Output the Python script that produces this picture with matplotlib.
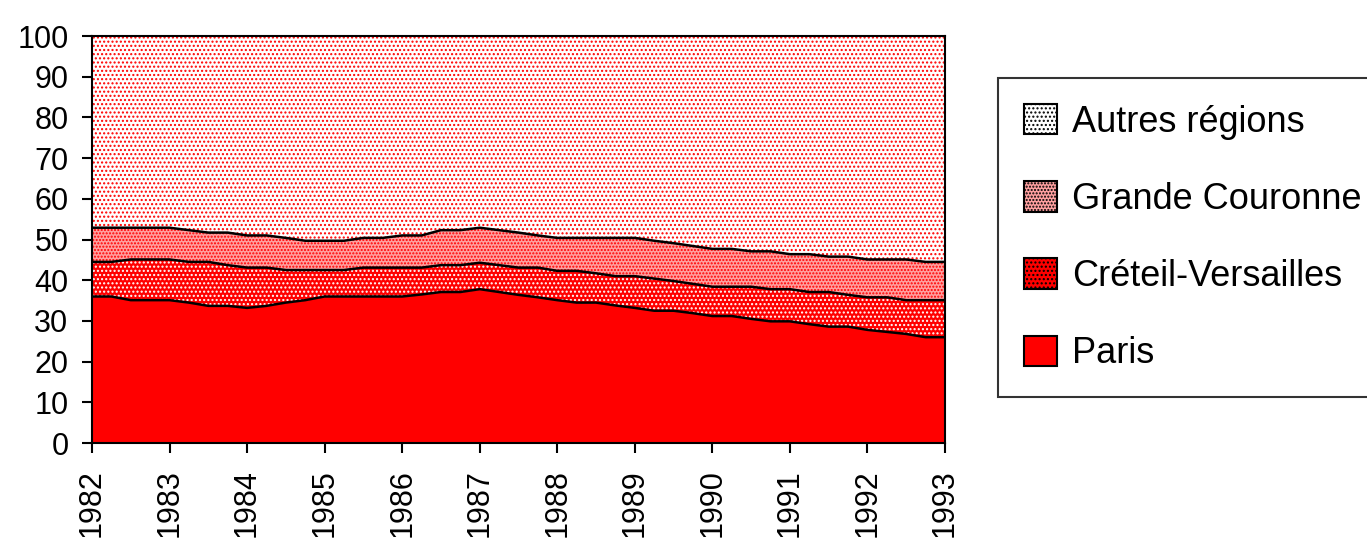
import numpy as np
import matplotlib
matplotlib.use("Agg")
import matplotlib.pyplot as plt
from matplotlib import font_manager
from matplotlib.patches import Patch

# quarterly points 1982.00 .. 1993.00, shares in %
years = np.arange(45) * 0.25 + 1982
paris = [36.0, 36.0, 35.1, 35.1, 35.1, 34.5, 33.7, 33.7, 33.2, 33.7, 34.5, 35.1,
         36.0, 36.0, 36.0, 36.0, 36.0, 36.5, 37.1, 37.1, 37.8, 37.1, 36.4, 35.8,
         35.1, 34.5, 34.5, 33.8, 33.2, 32.5, 32.5, 31.9, 31.2, 31.2, 30.5, 29.9,
         29.9, 29.2, 28.6, 28.6, 27.8, 27.3, 26.8, 26.0, 26.0]
creteil = [8.5, 8.5, 10.0, 10.0, 10.0, 10.0, 10.8, 10.0, 9.9, 9.4, 8.0, 7.4,
           6.5, 6.5, 7.1, 7.1, 7.1, 6.6, 6.6, 6.6, 6.5, 6.6, 6.7, 7.3,
           7.2, 7.8, 7.2, 7.2, 7.8, 7.9, 7.3, 7.2, 7.2, 7.2, 7.9, 7.9,
           7.9, 7.9, 8.5, 7.8, 8.0, 8.5, 8.3, 9.1, 9.1]
grande = [8.4, 8.4, 7.8, 7.8, 7.8, 7.8, 7.2, 8.0, 7.9, 7.9, 7.9, 7.2,
          7.2, 7.2, 7.3, 7.3, 7.9, 7.9, 8.6, 8.6, 8.6, 8.6, 8.6, 7.9,
          8.1, 8.1, 8.7, 9.4, 9.4, 9.3, 9.3, 9.3, 9.3, 9.3, 8.7, 9.3,
          8.6, 9.3, 8.7, 9.4, 9.3, 9.3, 10.0, 9.4, 9.4]
autres = [47.1, 47.1, 47.1, 47.1, 47.1, 47.7, 48.3, 48.3, 49.0, 49.0, 49.6, 50.3,
          50.3, 50.3, 49.6, 49.6, 49.0, 49.0, 47.7, 47.7, 47.1, 47.7, 48.3, 49.0,
          49.6, 49.6, 49.6, 49.6, 49.6, 50.3, 50.9, 51.6, 52.3, 52.3, 52.9, 52.9,
          53.6, 53.6, 54.2, 54.2, 54.9, 54.9, 54.9, 55.5, 55.5]
labels = ["Paris", "Créteil-Versailles", "Grande Couronne", "Autres régions"]
year_ticks = list(range(1982, 1994))

# narrow font for tick digits if there is one
names = {f.name for f in font_manager.fontManager.ttflist}
if "Liberation Sans Narrow" in names:
    tick_font, tick_size = "Liberation Sans Narrow", 25
else:
    tick_font, tick_size = "Liberation Sans", 22

plt.rcParams['font.family'] = ['Liberation Sans', 'DejaVu Sans']
plt.rcParams['hatch.linewidth'] = 1.0

fig = plt.figure(figsize=(13.67, 5.4), dpi=100)
ax = fig.add_axes([0.0673, 0.1796, 0.624, 0.7537])

series = [paris, creteil, grande, autres]
faces = ["#ff0000", "#ff0000", "#ffa0a0", "#ffffff"]
hatches = [None, "....", ".....", "...."]
hcolors = ["#ff0000", "#ffffff", "#ff0000", "#ff0000"]

base = np.zeros(len(years))
handles = []
for vals, fc, h, hc, lab in zip(series, faces, hatches, hcolors, labels):
    top = base + np.array(vals)
    ax.fill_between(years, base, top, facecolor=fc, hatch=h, edgecolor=hc,
                    linewidth=0)
    if lab != "Autres régions":
        ax.plot(years, top, color="black", lw=1.8)
    handles.append(Patch(facecolor=fc, hatch=h, edgecolor="black", lw=1.5, label=lab))
    base = top

ax.set_xlim(1982, 1993)
ax.set_ylim(0, 100)
ax.set_yticks(range(0, 101, 10))
ax.set_xticks(year_ticks)
ax.set_xticklabels([str(y) for y in year_ticks], rotation=90)
ax.tick_params(length=7, width=1.5, direction="out", pad=10)
ax.tick_params(axis="x", pad=12)
for lbl in ax.get_xticklabels() + ax.get_yticklabels():
    lbl.set_fontfamily(tick_font)
    lbl.set_fontsize(tick_size)
for s in ax.spines.values():
    s.set_linewidth(1.5)

leg = fig.legend(handles=handles[::-1], loc="upper left",
                 bbox_to_anchor=(998 / 1367, 1 - 78 / 540), fontsize=26,
                 frameon=True, fancybox=False, labelspacing=1.15,
                 handlelength=0.92, handleheight=0.92, handletextpad=0.42,
                 borderpad=0.72, borderaxespad=0)
leg.get_frame().set_edgecolor("black")
leg.get_frame().set_linewidth(1.5)

fig.savefig("out.png", dpi=100)
